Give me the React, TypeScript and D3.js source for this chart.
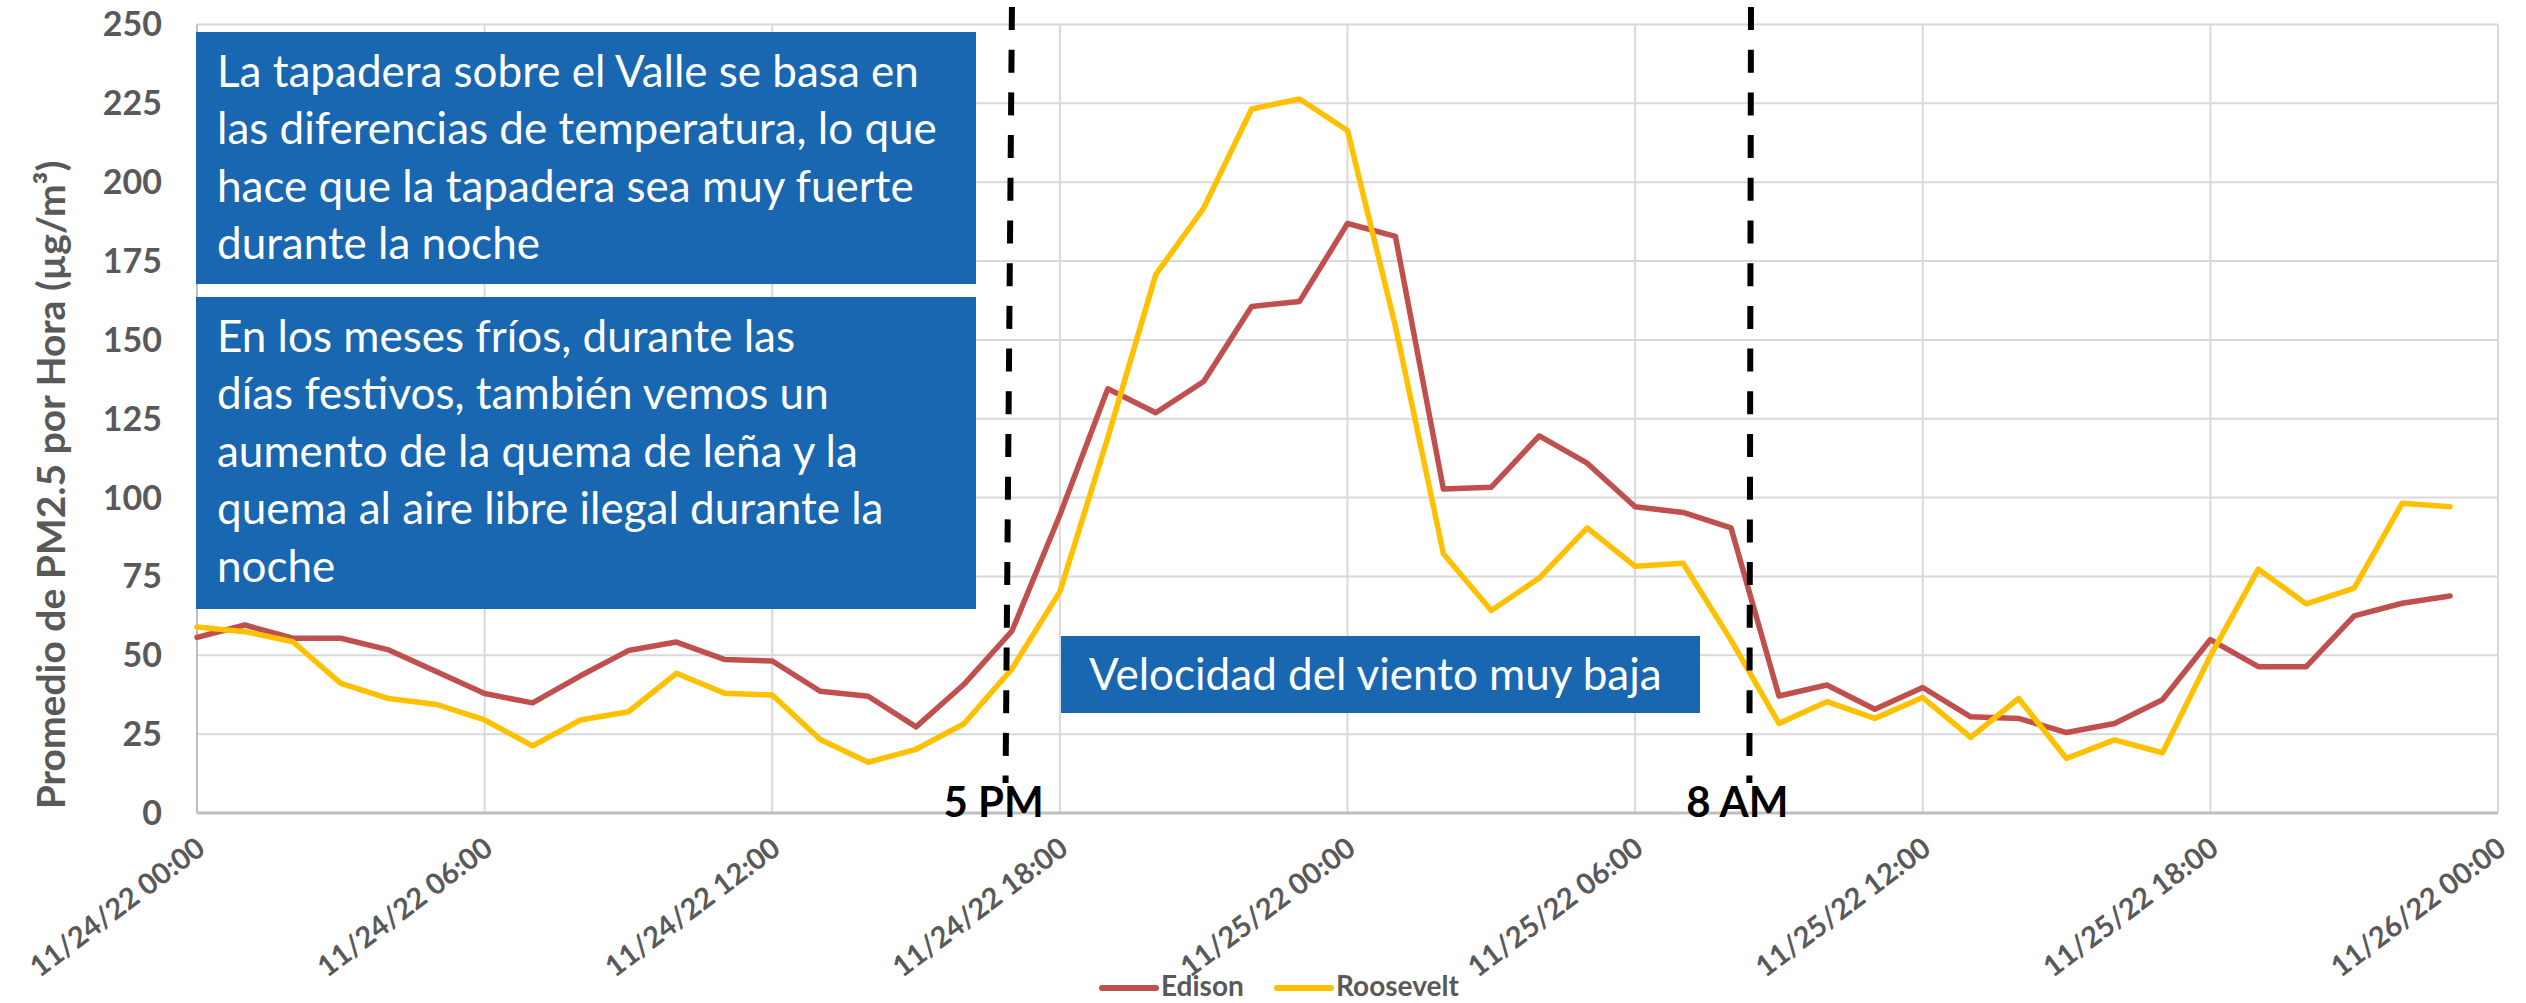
import React from "react";
import * as d3 from "d3";

// hourly PM2.5 averages, 11/24/22 00:00 .. 11/25/22 23:00
const edison = [55.7, 59.6, 55.4, 55.4, 51.7, 44.8, 37.9, 34.9, 43.5, 51.5, 54.2, 48.7, 48.2, 38.6, 37.0, 27.3, 40.8, 57.7, 94.5, 134.5, 126.9, 136.8, 160.6, 162.2, 186.9, 182.8, 102.7, 103.3, 119.6, 110.9, 97.1, 95.3, 90.4, 37.1, 40.6, 32.9, 39.8, 30.5, 30.0, 25.5, 28.4, 35.9, 55.0, 46.4, 46.4, 62.5, 66.5, 68.8];
const roosevelt = [59.0, 57.5, 54.3, 41.1, 36.3, 34.4, 29.5, 21.3, 29.5, 32.1, 44.3, 38.0, 37.4, 23.3, 16.1, 20.2, 28.3, 45.7, 70.2, 119.0, 170.7, 191.8, 223.2, 226.4, 216.4, 154.3, 82.2, 64.2, 74.5, 90.4, 78.2, 79.2, 54.8, 28.4, 35.3, 30.0, 36.6, 24.0, 36.3, 17.3, 23.2, 19.1, 49.8, 77.3, 66.3, 71.3, 98.2, 97.1];
const xTickLabels = ["11/24/22 00:00", "11/24/22 06:00", "11/24/22 12:00", "11/24/22 18:00", "11/25/22 00:00", "11/25/22 06:00", "11/25/22 12:00", "11/25/22 18:00", "11/26/22 00:00"];
const yTicks = [0, 25, 50, 75, 100, 125, 150, 175, 200, 225, 250];
const seriesNames = ["Edison", "Roosevelt"];
// annotation markers (hours after 11/24 00:00)
const markerLabels = ["5 PM", "8 AM"];
const markerHours = [[17.0, 16.86], [32.42, 32.38]];

const note1 = ["La tapadera sobre el Valle se basa en", "las diferencias de temperatura, lo que", "hace que la tapadera sea muy fuerte", "durante la noche"];
const note2 = ["En los meses fríos, durante las", "días festivos, también vemos un", "aumento de la quema de leña y la", "quema al aire libre ilegal durante la", "noche"];
const note3 = ["Velocidad del viento muy baja"];

const W = 2526, H = 1003;
const FONT = "Lato, 'Open Sans', sans-serif";
const GRAY = "#595959";
const BLUE = "#1967b1";
const colors = ["#c0504d", "#ffc000"];

const parse = d3.timeParse("%m/%d/%y %H:%M");
const t0 = parse(xTickLabels[0])!;
const hourToDate = (h: number) => d3.timeMinute.offset(t0, Math.round(h * 60));

export default function App() {
  const x = d3.scaleTime()
    .domain([t0, parse(xTickLabels[xTickLabels.length - 1])!])
    .range([197, 2498]);
  const y = d3.scaleLinear().domain([0, 250]).range([813, 24.5]);

  const line = d3.line<number>()
    .x((_, i) => x(hourToDate(i)))
    .y((d) => y(d));

  const notes = [
    { lines: note1, x: 196, y: 32, w: 780, h: 252, tx: 217, ty: 87 },
    { lines: note2, x: 196, y: 297, w: 780, h: 312, tx: 217, ty: 352 },
    { lines: note3, x: 1061, y: 636, w: 639, h: 77, tx: 1089, ty: 690 },
  ];

  return (
    <svg width={W} height={H} style={{ position: "absolute", left: 0, top: 0, background: "#fff" }} fontFamily={FONT}>
      <rect width={W} height={H} fill="#fff" />
      {/* grid */}
      {yTicks.map((t) => (
        <line key={"gy" + t} x1={197} x2={2498} y1={y(t)} y2={y(t)} stroke="#d9d9d9" strokeWidth={2} />
      ))}
      {xTickLabels.map((l) => (
        <line key={"gx" + l} x1={x(parse(l)!)} x2={x(parse(l)!)} y1={y(250)} y2={y(0)} stroke="#d9d9d9" strokeWidth={2} />
      ))}
      <line x1={197} x2={2498} y1={y(0)} y2={y(0)} stroke="#bfbfbf" strokeWidth={3} />
      <line x1={197} x2={197} y1={y(250)} y2={y(0)} stroke="#bfbfbf" strokeWidth={2} />

      {/* y axis */}
      {yTicks.map((t) => (
        <text key={"ty" + t} x={162} y={y(t)} dy="0.35em" textAnchor="end" fontSize={34} fontWeight="bold" fill={GRAY}>{t}</text>
      ))}
      <text transform="translate(65,485) rotate(-90)" textAnchor="middle" fontSize={39} fontWeight="bold" fill={GRAY}>
        Promedio de PM2.5 por Hora (µg/m³)
      </text>

      {/* x axis */}
      {xTickLabels.map((l) => (
        <text key={"tx" + l} transform={`translate(${x(parse(l)!) + 10},852) rotate(-37)`} textAnchor="end" fontSize={29} fontWeight="bold" fill={GRAY}>{l}</text>
      ))}

      {/* series */}
      {[edison, roosevelt].map((s, i) => (
        <path key={seriesNames[i]} d={line(s)!} fill="none" stroke={colors[i]} strokeWidth={5.5} strokeLinejoin="round" strokeLinecap="round" />
      ))}

      {/* notes */}
      {notes.map((n, i) => (
        <g key={"n" + i}>
          <rect x={n.x} y={n.y} width={n.w} height={n.h} fill={BLUE} />
          {n.lines.map((t, j) => (
            <text key={j} x={n.tx} y={n.ty + j * 57.4} fontSize={44} fill="#fff">{t}</text>
          ))}
        </g>
      ))}

      {/* markers */}
      {markerLabels.map((m, i) => {
        const xt = x(hourToDate(markerHours[i][0]));
        const xb = x(hourToDate(markerHours[i][1]));
        return (
          <g key={m}>
            <line x1={xt} y1={7} x2={xb} y2={783} stroke="#000" strokeWidth={6} strokeDasharray="23 19.7" />
            <text x={xb - 12} y={817} textAnchor="middle" fontSize={42} fontWeight="bold" fill="#000">{m}</text>
          </g>
        );
      })}

      {/* legend */}
      {seriesNames.map((s, i) => {
        const lx = [1102, 1277][i];
        return (
          <g key={"lg" + s}>
            <line x1={lx} x2={lx + 54} y1={988} y2={988} stroke={colors[i]} strokeWidth={6} strokeLinecap="round" />
            <text x={lx + 59} y={996} fontSize={28} fontWeight="bold" fill={GRAY}>{s}</text>
          </g>
        );
      })}
    </svg>
  );
}
